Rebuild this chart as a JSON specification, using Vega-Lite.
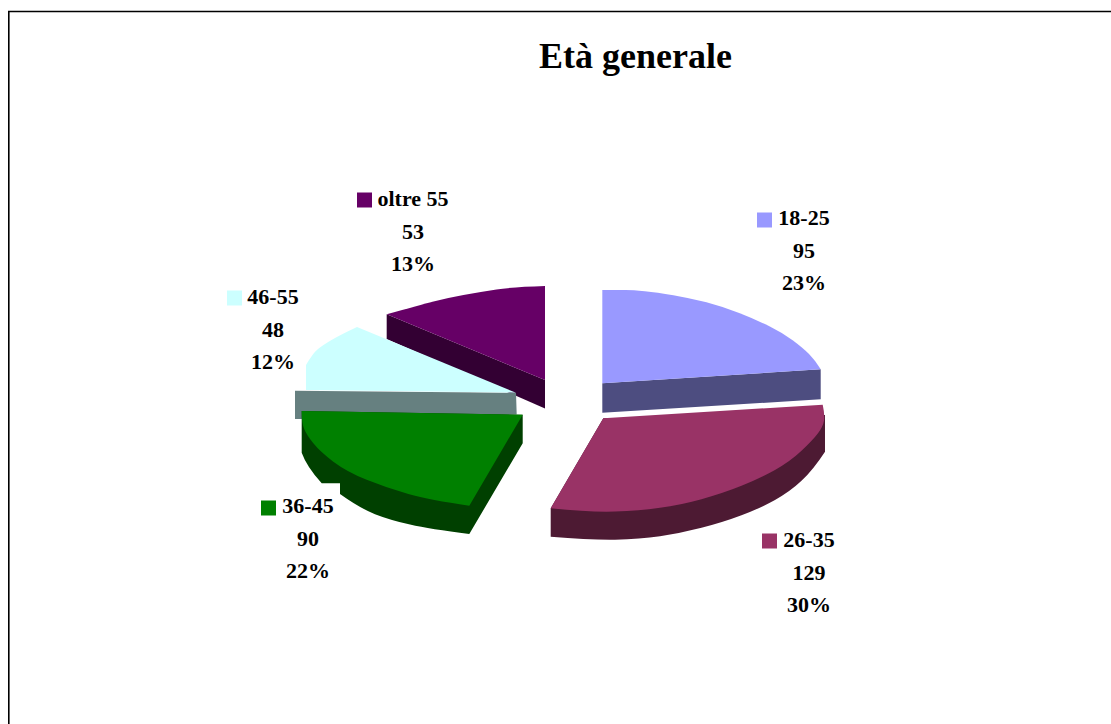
{
"$schema":"https://vega.github.io/schema/vega-lite/v6.json",
"width":1111,"height":724,"padding":0,"autosize":"none",
"background":"white",
"title":{"text":"Età generale","font":"Liberation Serif","fontSize":36,"fontWeight":"bold","color":"black","anchor":"start","frame":"group","baseline":"alphabetic","offset":0,"dx":539,"dy":104},
"config":{"view":{"stroke":null}},
"datasets":{
"slices":[
{"category":"oltre 55","count":53,"percent":13},
{"category":"18-25","count":95,"percent":23},
{"category":"46-55","count":48,"percent":12},
{"category":"36-45","count":90,"percent":22},
{"category":"26-35","count":129,"percent":30}
],
"anchors":[
{"category":"oltre 55","textAcross":413,"textDown":206,"keyAcross":364.5,"keyDown":200},
{"category":"18-25","textAcross":804,"textDown":225,"keyAcross":764.5,"keyDown":220},
{"category":"46-55","textAcross":273,"textDown":304,"keyAcross":234.5,"keyDown":298},
{"category":"36-45","textAcross":308,"textDown":513,"keyAcross":268.5,"keyDown":508},
{"category":"26-35","textAcross":809,"textDown":547,"keyAcross":769.5,"keyDown":541}
]},
"data":{"name":"slices"},
"layer":[
{"mark":{"type":"point","filled":true,"opacity":1,"size":4,"strokeWidth":0},
"encoding":{
"fill":{"field":"category","type":"nominal","legend":null,"scale":{"domain":["oltre 55","18-25","46-55","36-45","26-35"],"range":["#330033","#4d4d80","#668080","#004000","#4d1a33"]}},
"shape":{"field":"category","type":"nominal","legend":null,"scale":{"domain":["oltre 55","18-25","46-55","36-45","26-35"],"range":[
"M-168.8,-47.7L-10.5,18L-10.5,46.5L-168.8,-23Z",
"M46.8,21.3L265.2,7.3L265.2,37.3L46.8,50.7Z",
"M-260.5,28.7L-39.5,30.7L-38.8,52.5L-254.5,57L-260.5,57Z",
"M-253.8,49L-253.8,90.7Q-248.8,104.7 -233.8,121.3L-215.5,121.3L-215.5,132Q-195.5,146.3 -180.5,152.15Q-165.5,158 -145.5,162.5Q-125.5,167 -86.2,172L-32.8,81.3L-32.8,52.7Z",
"M47.8,56.3L269.5,53L269.5,89.7Q257.5,108 246,118.85Q234.5,129.7 219.5,138Q204.5,146.3 186,153.3Q167.5,160.3 146,165.8Q124.5,171.3 104.5,174.3Q84.5,177.3 59.5,177.65Q34.5,178 -4.8,174.7L-4.8,146.3Z"
]}}}},
{"mark":{"type":"point","filled":true,"opacity":1,"size":4,"strokeWidth":0},
"encoding":{
"fill":{"field":"category","type":"nominal","legend":null,"scale":{"domain":["oltre 55","18-25","46-55","36-45","26-35"],"range":["#660066","#9999ff","#ccffff","#008000","#993366"]}},
"shape":{"field":"category","type":"nominal","legend":null,"scale":{"domain":["oltre 55","18-25","46-55","36-45","26-35"],"range":[
"M-10.5,-76Q-42.5,-75 -59,-72.5Q-75.5,-70 -92,-67Q-108.5,-64 -122,-60.5Q-135.5,-57 -168.8,-47.7L-10.5,18Z",
"M46.8,-72L70,-72Q77.5,-72 89.35,-70.85Q101.2,-69.7 117.85,-66.85Q134.5,-64 151,-59.65Q167.5,-55.3 184.35,-48.65Q201.2,-42 214.35,-35.5Q227.5,-29 237.5,-21.5Q247.5,-14 253.5,-8Q259.5,-2 265.2,7.3L46.8,21.3Z",
"M-249.5,28L-249.5,3Q-242.5,-9 -237.5,-13Q-232.5,-17 -224,-22Q-215.5,-27 -198.5,-35L-39.5,30.7Z",
"M-253.8,49L-32.8,52.7L-86.2,143.7Q-125.5,138 -147.15,132Q-168.8,126 -188.8,117.85Q-208.8,109.7 -222.15,99.7Q-235.5,89.7 -242.15,81.35Q-248.8,73 -251.3,67Q-253.8,61 -253.8,49Z",
"M267.2,42.7L47.8,56.3L-4.8,146.3Q34.5,150.3 59.5,149.5Q84.5,148.7 104.5,145.85Q124.5,143 146,137.15Q167.5,131.3 186,123.8Q204.5,116.3 219.5,108Q234.5,99.7 246,88.85Q257.5,78 262.5,71.35Q267.5,64.7 268.5,58.85Q269.5,53 267.2,42.7Z"
]}}}},
{"transform":[{"lookup":"category","from":{"data":{"name":"anchors"},"key":"category","fields":["keyAcross","keyDown"]}}],
"mark":{"type":"point","filled":true,"opacity":1,"shape":"square","size":225,"strokeWidth":0},
"encoding":{
"x":{"field":"keyAcross","type":"quantitative","scale":{"domain":[0,1111],"nice":false,"zero":false},"axis":null},
"y":{"field":"keyDown","type":"quantitative","scale":{"domain":[724,0],"nice":false,"zero":false},"axis":null},
"fill":{"field":"category","type":"nominal","legend":null,"scale":{"domain":["oltre 55","18-25","46-55","36-45","26-35"],"range":["#660066","#9999ff","#ccffff","#008000","#993366"]}}}},
{"transform":[{"lookup":"category","from":{"data":{"name":"anchors"},"key":"category","fields":["textAcross","textDown"]}},
{"calculate":"datum.category+'\\n'+datum.count+'\\n'+datum.percent+'%'","as":"label"}],
"mark":{"type":"text","font":"Liberation Serif","fontSize":22,"fontWeight":"bold","color":"black","align":"center","baseline":"alphabetic","lineBreak":"\n","lineHeight":32.5},
"encoding":{
"x":{"field":"textAcross","type":"quantitative","scale":{"domain":[0,1111],"nice":false,"zero":false},"axis":null},
"y":{"field":"textDown","type":"quantitative","scale":{"domain":[724,0],"nice":false,"zero":false},"axis":null},
"text":{"field":"label","type":"nominal"}}},
{"data":{"values":[{"part":"frame"}]},
"mark":{"type":"point","filled":false,"opacity":1,"size":4,"stroke":"black","strokeWidth":1.6,"shape":"M-546.7,362L-546.7,-350.5L556,-350.5"},
"encoding":{}}
],
"resolve":{"scale":{"fill":"independent","shape":"independent"}}
}
